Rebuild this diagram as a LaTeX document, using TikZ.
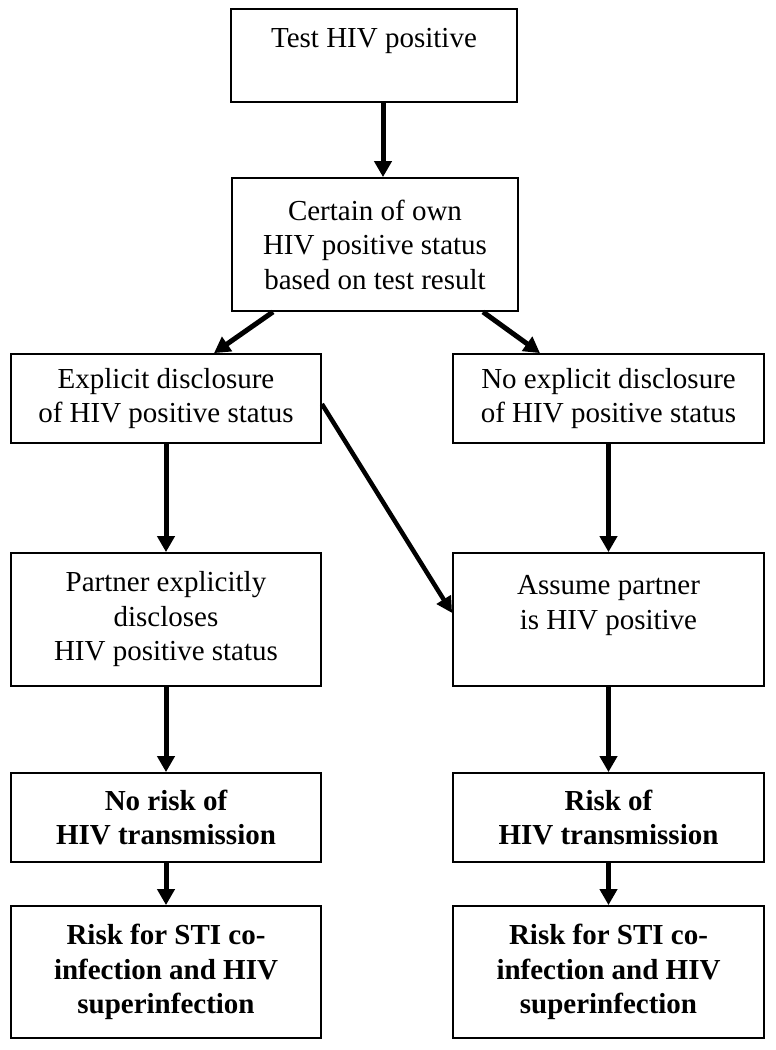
\documentclass[tikz,border=0pt]{standalone}
\usepackage{fontspec}
\setmainfont{Liberation Serif}
\usetikzlibrary{arrows.meta}
\begin{document}
\begin{tikzpicture}[x=1pt,y=1pt,
  box/.style={draw=black, line width=1.8pt, rectangle, inner sep=0pt, align=center,
    font=\fontsize{29pt}{34.5pt}\selectfont},
  boldbox/.style={box, font=\fontsize{29pt}{34.5pt}\selectfont\bfseries},
  arr/.style={line width=5pt, -{Triangle[length=16pt,width=17pt]}},
  darr/.style={line width=4.5pt, -{Triangle[length=16pt,width=16pt]}}]
\useasboundingbox (0,0) rectangle (776,-1050);
\fill[white] (0,0) rectangle (776,-1050);
\node[box, minimum width=286, minimum height=93] (b1) at (374,-55.5) {Test HIV positive\\~};
\node[box, minimum width=286, minimum height=133] (b2) at (375,-244.5) {Certain of own\\HIV positive status\\based on test result};
\node[box, minimum width=310, minimum height=89] (b3) at (166,-398.5) {Explicit disclosure\\of HIV positive status};
\node[box, minimum width=311, minimum height=89] (b4) at (608.5,-398.5) {No explicit disclosure\\of HIV positive status};
\node[box, minimum width=310, minimum height=133] (b5) at (166,-619.5) {Partner explicitly\\discloses\\HIV positive status};
\node[box, minimum width=311, minimum height=133] (b6) at (608.5,-619.5) {Assume partner\\is HIV positive\\~};
\node[boldbox, minimum width=310, minimum height=89] (b7) at (166,-817.5) {No risk of\\HIV transmission};
\node[boldbox, minimum width=311, minimum height=89] (b8) at (608.5,-817.5) {Risk of\\HIV transmission};
\node[boldbox, minimum width=310, minimum height=132] (b9) at (166,-972) {Risk for STI co-\\infection and HIV\\superinfection};
\node[boldbox, minimum width=311, minimum height=132] (b10) at (608.5,-972) {Risk for STI co-\\infection and HIV\\superinfection};
\draw[arr] ([xshift=9pt]b1.south) -- ([xshift=8pt]b2.north);
\draw[arr] ([xshift=-102pt]b2.south) -- ([xshift=48pt]b3.north);
\draw[arr] ([xshift=108pt]b2.south) -- ([xshift=-68.5pt]b4.north);
\draw[darr] ([yshift=-5.5pt]b3.east) -- ([yshift=6.5pt]b6.west);
\draw[arr] (b3.south) -- (b5.north);
\draw[arr] (b4.south) -- (b6.north);
\draw[arr] (b5.south) -- (b7.north);
\draw[arr] (b6.south) -- (b8.north);
\draw[arr] (b7.south) -- (b9.north);
\draw[arr] (b8.south) -- (b10.north);
\end{tikzpicture}
\end{document}
